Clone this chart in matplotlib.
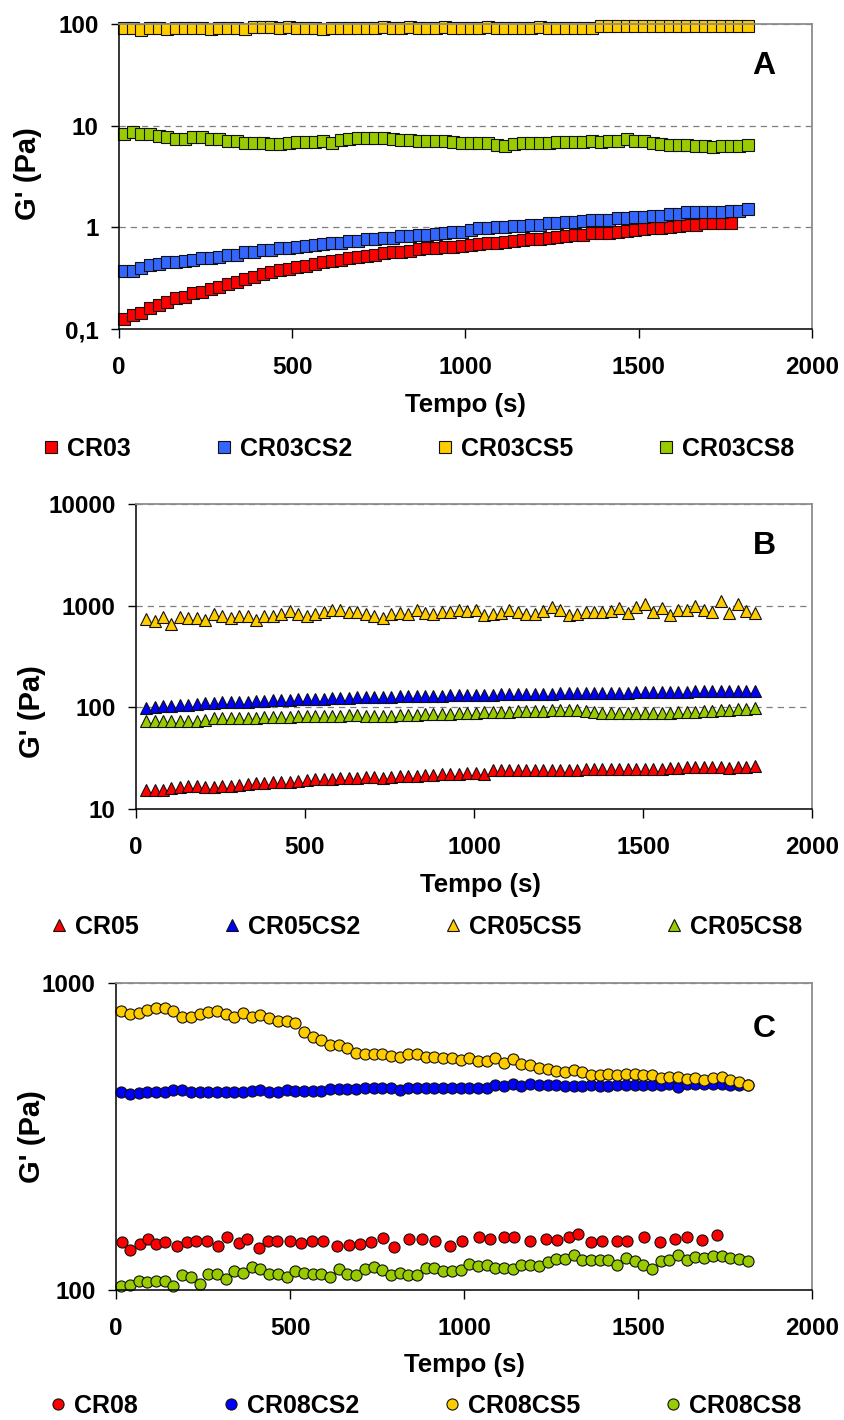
import matplotlib
matplotlib.use("Agg")
import matplotlib.pyplot as plt
from matplotlib.ticker import NullLocator

plt.rcParams["font.family"] = ["Liberation Sans", "DejaVu Sans"]
plt.rcParams["font.weight"] = "bold"

# sampling times (s)
t_a = [15, 40, 65, 90, 115, 140, 165, 190, 215, 240, 265, 290, 315, 340, 365, 390,
       415, 440, 465, 490, 515, 540, 565, 590, 615, 640, 665, 690, 715, 740, 765, 790,
       815, 840, 865, 890, 915, 940, 965, 990, 1015, 1040, 1065, 1090, 1115, 1140, 1165,
       1190, 1215, 1240, 1265, 1290, 1315, 1340, 1365, 1390, 1415, 1440, 1465, 1490,
       1515, 1540, 1565, 1590, 1615, 1640, 1665, 1690, 1715, 1740, 1765, 1790, 1815]
t_b = [30, 55, 80, 105, 130, 155, 180, 205, 230, 255, 280, 305, 330, 355, 380, 405,
       430, 455, 480, 505, 530, 555, 580, 605, 630, 655, 680, 705, 730, 755, 780, 805,
       830, 855, 880, 905, 930, 955, 980, 1005, 1030, 1055, 1080, 1105, 1130, 1155, 1180,
       1205, 1230, 1255, 1280, 1305, 1330, 1355, 1380, 1405, 1430, 1455, 1480, 1505,
       1530, 1555, 1580, 1605, 1630, 1655, 1680, 1705, 1730, 1755, 1780, 1805, 1830]
t_c = t_a
t_cr08 = [17, 41, 68, 92, 114, 142, 175, 205, 231, 261, 293, 319, 353, 376, 411, 437,
          464, 499, 531, 563, 595, 634, 669, 702, 734, 768, 799, 842, 879, 916, 961, 994,
          1042, 1074, 1114, 1143, 1189, 1235, 1268, 1302, 1328, 1366, 1397, 1440, 1469,
          1516, 1562, 1605, 1642, 1685, 1727]

# G' (Pa) - series A
cr03 = [0.126, 0.138, 0.143, 0.160, 0.173, 0.183, 0.201, 0.208, 0.225, 0.233, 0.248,
        0.261, 0.275, 0.293, 0.311, 0.328, 0.346, 0.362, 0.381, 0.385, 0.405,
        0.420, 0.434, 0.454, 0.467, 0.480, 0.497, 0.510, 0.527, 0.540, 0.556,
        0.570, 0.570, 0.590, 0.610, 0.622, 0.622, 0.635, 0.647, 0.655, 0.665,
        0.680, 0.700, 0.708, 0.720, 0.735, 0.750, 0.770, 0.770, 0.790, 0.800,
        0.820, 0.840, 0.840, 0.875, 0.885, 0.885, 0.910, 0.920, 0.940, 0.960,
        0.980, 0.990, 1.016, 1.030, 1.057, 1.057, 1.100, 1.100, 1.100, 1.110]
cr03cs2 = [0.372, 0.372, 0.396, 0.427, 0.440, 0.460, 0.460, 0.465, 0.480, 0.497, 0.497,
           0.515, 0.535, 0.540, 0.570, 0.575, 0.600, 0.600, 0.622, 0.622, 0.647,
           0.655, 0.672, 0.680, 0.708, 0.708, 0.735, 0.735, 0.769, 0.769, 0.793,
           0.793, 0.817, 0.820, 0.841, 0.841, 0.867, 0.880, 0.895, 0.910, 0.940,
           0.980, 0.980, 1.000, 1.016, 1.040, 1.040, 1.057, 1.057, 1.100, 1.100,
           1.120, 1.120, 1.160, 1.180, 1.180, 1.180, 1.230, 1.230, 1.260, 1.270,
           1.300, 1.300, 1.350, 1.350, 1.400, 1.400, 1.430, 1.430, 1.430, 1.460, 1.460, 1.510]
cr03cs5 = [91, 91, 87,
           91, 91, 90, 91, 91, 91, 91, 90, 91, 91, 91, 90,
           94, 94, 94, 91, 94,
           91, 91, 91, 90, 91, 91, 91, 91, 91, 92,
           93, 92, 92, 93, 92, 92, 92, 93, 92, 92, 92, 92, 93, 92, 92, 92, 92, 92, 93, 92,
           92, 92, 92, 92, 92,
           95, 96, 95, 95, 96, 95, 95, 95, 96, 95, 95, 95, 95, 96, 95, 95, 95, 95]
cr03cs8 = [8.3, 8.6, 8.3, 8.3, 8.0, 7.7, 7.4, 7.4, 7.8, 7.7, 7.4, 7.4, 7.1, 7.0, 6.7,
           6.7, 6.7, 6.6, 6.6, 6.7, 6.9, 6.9, 6.9, 7.1, 6.8, 7.2, 7.4, 7.5, 7.5, 7.5,
           7.5, 7.4, 7.2, 7.2, 7.1, 7.05, 7.0, 7.0, 6.9,
           6.8, 6.8, 6.8, 6.7, 6.5, 6.3, 6.6, 6.7, 6.7, 6.7, 6.8, 6.9, 6.9, 6.9, 6.95,
           7.05, 6.9, 7.0, 7.1, 7.4, 7.1, 7.0, 6.8, 6.6, 6.5, 6.5, 6.4, 6.3, 6.3, 6.1,
           6.3, 6.35, 6.35, 6.45]

# G' (Pa) - series B
cr05 = [15.5, 15.5, 15.3, 16.0, 16.3, 16.8, 16.8, 16.5, 16.5, 16.8,
        17.0, 17.3, 17.5, 18.0, 18.0, 18.3, 18.5, 18.5, 19.0, 19.3,
        19.5, 19.8, 19.8, 20.0, 20.0, 20.3, 20.5, 20.5, 20.3, 20.8,
        21.0, 21.3, 21.3, 21.5, 21.8, 22.0, 22.0, 22.3, 22.5, 22.5,
        22.3, 24.0, 24.0, 24.0, 24.3, 24.0, 24.0, 24.3, 24.0, 24.3,
        24.0, 24.3, 24.5, 24.5, 24.5, 24.5, 24.8, 24.8, 24.8, 25.0,
        25.0, 25.0, 25.3, 25.5, 26.0, 26.0, 26.0, 26.0, 25.8, 25.5,
        25.8, 26.0, 26.3]
cr05cs2 = [98, 101, 103, 104, 106, 106, 108, 109, 111, 112,
           112, 113, 114, 115, 116, 117, 118, 119, 120, 121,
           121, 122, 123, 124, 124, 125, 125, 126, 126, 127,
           128, 128, 129, 129, 130, 130, 131, 131, 132, 132,
           133, 133, 134, 134, 135, 135, 136, 136, 136, 137,
           137, 137, 138, 138, 138, 139, 139, 139, 140, 140,
           142, 142, 143, 143, 143, 144, 144, 144, 145, 145,
           145, 145, 146]
cr05cs5 = [740, 707, 780, 661, 780, 762, 762, 723, 822, 792, 762, 792, 792, 723, 792,
           792, 835, 887, 835, 792, 822, 867, 914, 907, 874, 874, 822, 792, 762, 835,
           841, 822, 907, 841, 822, 861, 874, 907,
           887, 907, 811, 822, 841, 907, 874, 822, 822, 887, 977, 907, 811, 822, 874,
           861, 874, 887, 942, 841, 977, 1032, 874, 957, 811, 907, 907, 993, 907, 874,
           1112, 841, 1032, 887, 841]
cr05cs8 = [74, 74, 74, 74, 74, 74, 74, 75,
           78, 78, 78, 79, 79, 79, 80, 80, 80, 81,
           82, 82, 82, 82, 83, 83, 84, 84, 83, 83,
           83, 83, 84, 84, 84, 85, 86, 86, 86, 87,
           88, 88, 89, 89, 90, 90, 91, 92, 92, 93,
           94, 94, 95, 94, 93, 89, 88, 88, 88, 88,
           88, 88, 88, 88, 88, 89, 89, 90, 91, 92,
           94, 95, 97, 97, 98]

# G' (Pa) - series C
cr08 = [143, 135, 141, 147, 141, 143, 139, 143, 144, 144, 139, 149, 142, 147, 137,
        144, 145, 145, 142, 144, 144, 139, 140, 141, 143, 148, 138, 147, 147, 144, 139,
        145, 149, 147, 149, 149, 145, 147, 146, 149, 152, 143, 145, 144, 145, 149, 143,
        147, 149, 146, 151]
cr08cs2 = [441, 435, 437, 443, 443, 443, 448, 448, 443, 443, 443, 443, 443, 443, 443,
           446, 448, 441, 441, 448, 446, 446, 446, 446, 452, 452, 452, 452, 456, 456,
           456, 456, 450, 456, 456, 456, 456, 456, 456,
           456, 454, 454, 454, 465, 462, 468, 462, 468, 465, 465, 465, 462, 462, 462,
           465, 462, 462, 465, 465, 465, 465, 465, 465, 468, 459, 468, 468, 468, 468,
           468, 465, 465, 465]
cr08cs5 = [811, 793, 800, 817, 827, 827, 813, 777, 773, 793, 803, 811, 791, 777, 797,
           773, 787, 767, 754, 754, 739, 691, 665, 652, 628, 628, 613, 590, 587, 587,
           587, 580, 573, 586, 586, 575, 575, 568, 568,
           561, 571, 557, 557, 571, 551, 564, 547, 540, 527, 523, 517, 512, 521, 514,
           501, 501, 504, 501, 505, 505, 501, 501, 489, 495, 495, 486, 489, 485, 491,
           495, 483, 475, 465]
cr08cs8 = [103, 104, 107, 106, 107, 107, 103, 112, 110, 105, 113, 113, 109, 115, 114,
           119, 117, 113, 113, 110, 115, 114, 113, 113, 110, 117, 113, 112, 117, 119,
           116, 112, 114, 112, 112, 118, 118, 115, 115,
           116, 122, 120, 121, 118, 118, 117, 121, 121, 120, 123, 126, 126, 130, 125,
           125, 125, 125, 121, 127, 124, 121, 117, 124, 125, 130, 125, 128, 127, 129,
           129, 127, 126, 124]

RED, YELLOW, GREEN = "#FF0000", "#FFCC00", "#99CC00"
BLUE_A, BLUE = "#3366FF", "#0000FF"

fig = plt.figure(figsize=(8.45, 14.2), dpi=100)
ax_a = fig.add_axes([0.1408, 0.7683, 0.8201, 0.2148])
ax_b = fig.add_axes([0.1609, 0.4303, 0.8000, 0.2148])
ax_c = fig.add_axes([0.1373, 0.0915, 0.8237, 0.2162])


def series(ax, t, y, color, marker, ms, label):
    return ax.plot(t[:len(y)], y, ls="none", marker=marker, ms=ms, mfc=color,
                   mec="#111111", mew=0.8, clip_on=False, label=label)[0]


def style(ax, ylim, yticks, ylabels, letter, ylab_xy, xlab_xy, leg_handles, leg_xy):
    ax.set_yscale("log")
    ax.set_xlim(0, 2000)
    ax.set_ylim(*ylim)
    ax.set_xticks([0, 500, 1000, 1500, 2000])
    ax.set_yticks(yticks, ylabels)
    ax.yaxis.set_minor_locator(NullLocator())
    ax.tick_params(axis="both", labelsize=17.5, direction="out", width=1,
                   color="black")
    ax.tick_params(axis="x", length=6.5, pad=13)
    ax.tick_params(axis="y", length=5.8, pad=9)
    for s in ("left", "bottom"):
        ax.spines[s].set_color("black")
        ax.spines[s].set_linewidth(1.1)
    for s in ("top", "right"):
        ax.spines[s].set_color("#8c8c8c")
        ax.spines[s].set_linewidth(1.3)
    ax.grid(axis="y", which="major", color="#7f7f7f", lw=0.9, ls=(0, (5, 4)))
    ax.set_axisbelow(True)
    ax.text(*letter[1], letter[0], transform=ax.transAxes, fontsize=23,
            fontweight="bold", ha="center", va="center")
    ax.set_ylabel("G' (Pa)", fontsize=21, fontweight="bold", va="center")
    ax.yaxis.set_label_coords(*ylab_xy)
    ax.set_xlabel("Tempo (s)", fontsize=18.5, fontweight="bold", va="center")
    ax.xaxis.set_label_coords(*xlab_xy)
    fig.legend(handles=leg_handles, loc="center left", bbox_to_anchor=leg_xy,
               ncol=4, frameon=False, handlelength=0.6, handletextpad=0.34,
               columnspacing=3.42, borderpad=0, borderaxespad=0,
               prop={"weight": "bold", "size": 18})


# panel A: squares
h_a = [series(ax_a, t_a, cr03, RED, "s", 8.0, "CR03"),
       series(ax_a, t_a, cr03cs2, BLUE_A, "s", 8.0, "CR03CS2"),
       series(ax_a, t_a, cr03cs5, YELLOW, "s", 8.0, "CR03CS5"),
       series(ax_a, t_a, cr03cs8, GREEN, "s", 8.0, "CR03CS8")]
style(ax_a, (0.1, 100), [0.1, 1, 10, 100], ["0,1", "1", "10", "100"],
      ("A", (0.931, 0.862)), (-0.131, 0.51), (0.5, -0.249), h_a,
      (0.0515, 1 - 449 / 1420))

# panel B: triangles
h_b = [series(ax_b, t_b, cr05, RED, "^", 9.0, "CR05"),
       series(ax_b, t_b, cr05cs2, BLUE, "^", 9.0, "CR05CS2"),
       series(ax_b, t_b, cr05cs5, YELLOW, "^", 9.0, "CR05CS5"),
       series(ax_b, t_b, cr05cs8, GREEN, "^", 9.0, "CR05CS8")]
style(ax_b, (10, 10000), [10, 100, 1000, 10000], ["10", "100", "1000", "10000"],
      ("B", (0.930, 0.862)), (-0.154, 0.318), (0.509, -0.249), h_b,
      (0.061, 1 - 927 / 1420))

# panel C: circles
h_c = [series(ax_c, t_cr08, cr08, RED, "o", 8.0, "CR08"),
       series(ax_c, t_c, cr08cs2, BLUE, "o", 8.0, "CR08CS2"),
       series(ax_c, t_c, cr08cs5, YELLOW, "o", 8.0, "CR08CS5"),
       series(ax_c, t_c, cr08cs8, GREEN, "o", 8.0, "CR08CS8")]
style(ax_c, (100, 1000), [100, 1000], ["100", "1000"],
      ("C", (0.931, 0.852)), (-0.121, 0.5), (0.5, -0.244), h_c,
      (0.0595, 1 - 1406 / 1420))

fig.savefig("out.png", dpi=100)
